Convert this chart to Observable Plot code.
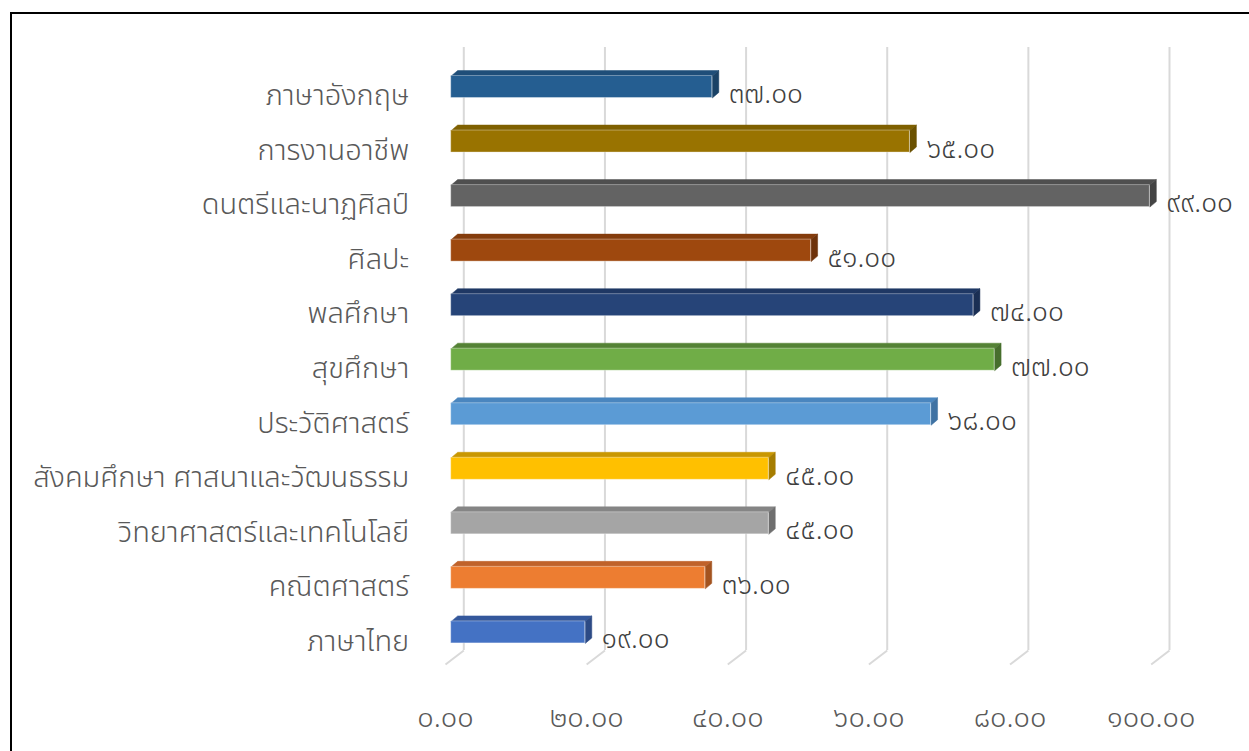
<!DOCTYPE html>
<html>
<head>
<meta charset="utf-8">
<script src="https://cdn.jsdelivr.net/npm/d3@7"></script>
<script src="https://cdn.jsdelivr.net/npm/@observablehq/plot@0.6"></script>
<style>
  html, body { margin: 0; padding: 0; background: #fff; overflow: hidden; width: 1249px; height: 751px; }
  #wrap { position: relative; width: 1249px; height: 751px; }
  #frame { position: absolute; left: 10px; top: 12px; width: 1400px; height: 900px; border: 2px solid #000; box-sizing: border-box; }
  #chart { position: absolute; left: 0; top: 0; }
  #chart svg { font-family: "Noto Sans Thai", "Noto Sans", "DejaVu Sans", sans-serif; }
</style>
</head>
<body>
<div id="wrap"><div id="frame"></div><div id="chart"></div></div>
<script>
// ---- data ----
const categories = [
  "ภาษาอังกฤษ",
  "การงานอาชีพ",
  "ดนตรีและนาฏศิลป์",
  "ศิลปะ",
  "พลศึกษา",
  "สุขศึกษา",
  "ประวัติศาสตร์",
  "สังคมศึกษา ศาสนาและวัฒนธรรม",
  "วิทยาศาสตร์และเทคโนโลยี",
  "คณิตศาสตร์",
  "ภาษาไทย"
];
const values = [37, 65, 99, 51, 74, 77, 68, 45, 45, 36, 19];
const tickValues = [0, 20, 40, 60, 80, 100];
const frontColors = ["#255e91", "#997300", "#636363", "#9e480e", "#264478", "#70ad47", "#5b9bd5", "#ffc000", "#a5a5a5", "#ed7d31", "#4472c4"];
const topColors   = ["#1f4e79", "#7f6000", "#4f4f4f", "#843c0c", "#1f3864", "#548235", "#4a86bf", "#c99700", "#858585", "#c0622a", "#34589c"];
const sideColors  = ["#1a4266", "#6b5100", "#444444", "#6e320a", "#1a2f54", "#476e2d", "#3f72a3", "#a67d00", "#6f6f6f", "#a3531f", "#2c4a85"];

// ---- helpers ----
const thaiDigits = "๐๑๒๓๔๕๖๗๘๙";
const toThai = (s) => s.replace(/[0-9]/g, (d) => thaiDigits[+d]);
const fmt = (v) => toThai(v.toFixed(2));

// scale geometry
const X0 = 450.7, PXU = 7.057;      // px per x unit (front plane)
const Y0 = 86.5, PYU = 54.54;       // px per category step
const yAt = (px) => (px - Y0) / PYU;
const h = 11 / PYU;                 // half height of front face
const ddx = 6.5 / PXU, ddy = -5.5 / PYU; // bar depth
const backDx = 12.6 / PXU, frontDx = -5.7 / PXU;

const bars = categories.map((c, i) => ({
  cat: c, i, value: values[i],
  front: frontColors[i], top: topColors[i], side: sideColors[i],
  label: fmt(values[i])
}));

const topPolys = [], sidePolys = [];
for (const b of bars) {
  const yt = b.i - h, yb = b.i + h, v = b.value;
  [[0, yt], [v, yt], [v + ddx, yt + ddy], [ddx, yt + ddy], [0, yt]]
    .forEach(([x, y]) => topPolys.push({ id: b.i, x, y, color: b.top }));
  [[v, yt], [v + ddx, yt + ddy], [v + ddx, yb + ddy], [v, yb], [v, yt]]
    .forEach(([x, y]) => sidePolys.push({ id: b.i, x, y, color: b.side }));
}

const chart = Plot.plot({
  width: 1249,
  height: 751,
  marginTop: 50,
  marginBottom: 101,
  marginLeft: 0,
  marginRight: 0,
  x: { domain: [0, 100], range: [X0, X0 + 100 * PXU], axis: null },
  y: { domain: [0, 10], range: [Y0, Y0 + 10 * PYU], axis: null },
  color: { type: "identity" },
  style: { background: "transparent", overflow: "visible" },
  marks: [
    // back wall gridlines
    Plot.ruleX(tickValues, { x: (d) => d + backDx, y1: yAt(47), y2: yAt(650), stroke: "#d9d9d9", strokeWidth: 2 }),
    // floor diagonals
    Plot.link(tickValues, { x1: (d) => d + backDx, x2: (d) => d + frontDx, y1: yAt(650), y2: yAt(664), stroke: "#d9d9d9", strokeWidth: 2 }),
    // bar top & side faces
    Plot.line(topPolys, { x: "x", y: "y", z: "id", fill: "color", stroke: "color", strokeWidth: 0.5, curve: "linear" }),
    Plot.line(sidePolys, { x: "x", y: "y", z: "id", fill: "color", stroke: "color", strokeWidth: 0.5, curve: "linear" }),
    // bar front faces
    Plot.rect(bars, { x1: 0, x2: "value", y1: (d) => d.i - h, y2: (d) => d.i + h, fill: "front", stroke: "#ffffff", strokeOpacity: 0.35, strokeWidth: 1 }),
    // value labels
    Plot.text(bars, { x: (d) => d.value + ddx, y: "i", text: "label", dx: 10, dy: 7, textAnchor: "start", fill: "#404040", fontSize: 28, fontWeight: 300, letterSpacing: 3 }),
    // category labels
    Plot.text(bars, { x: 0, y: "i", text: "cat", dx: -42, dy: 9, textAnchor: "end", fill: "#595959", fontSize: 29, fontWeight: 300 }),
    // x tick labels
    Plot.text(tickValues, { x: (d) => d + frontDx, y: yAt(717), text: (d) => fmt(d), fill: "#595959", fontSize: 29, fontWeight: 300, letterSpacing: 3 })
  ]
});
document.getElementById("chart").appendChild(chart);
</script>
</body>
</html>
